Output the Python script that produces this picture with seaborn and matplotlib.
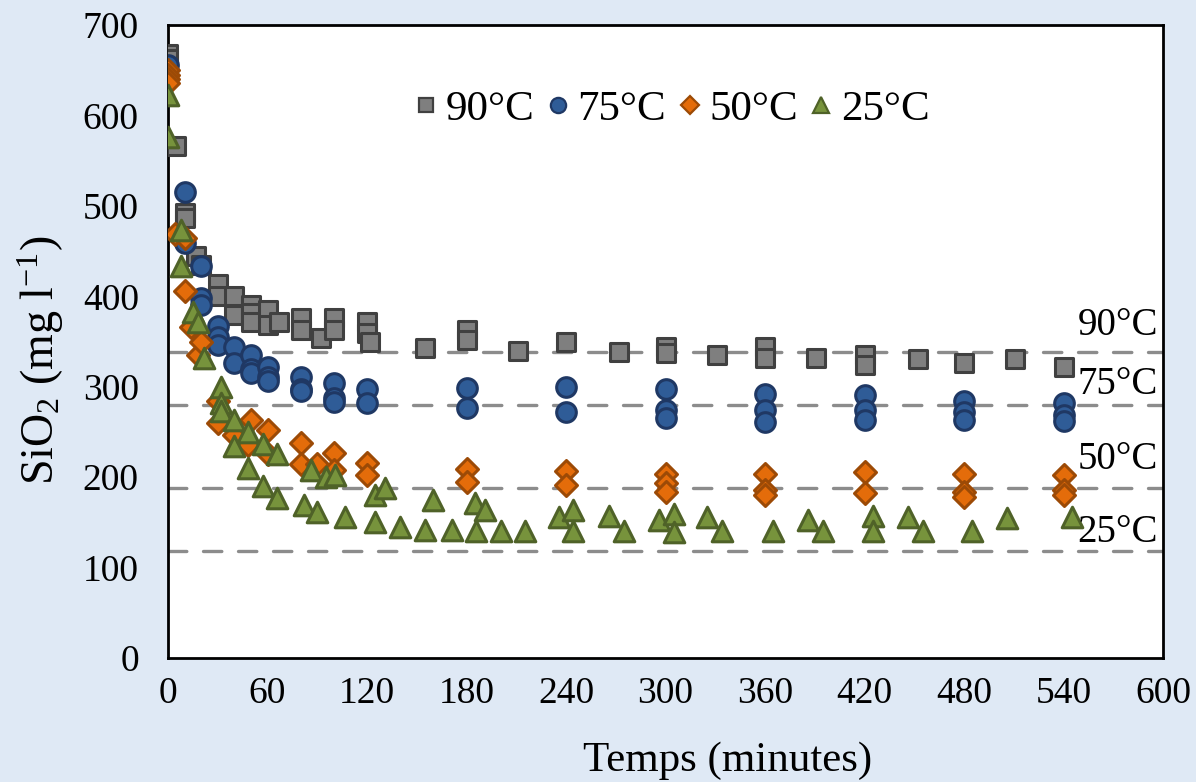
import numpy as np
import pandas as pd
import matplotlib
matplotlib.use("Agg")
import matplotlib.pyplot as plt
import seaborn as sns
from matplotlib.lines import Line2D

# ---- data ----
t90 = [0, 0, 5, 10, 10, 17, 20, 30, 30, 40, 40, 50, 50, 50, 60, 60, 67, 80, 80, 92, 100, 100,
       120, 120, 122, 155, 180, 180, 211, 240, 272, 300, 300, 331, 360, 360, 391, 420, 420, 452,
       480, 511, 540]
v90 = [668, 662, 566, 492, 487, 445, 435, 414, 400, 400, 379, 390, 381, 372, 385, 368, 372, 376,
       363, 354, 376, 363, 372, 359, 350, 343, 363, 352, 339, 349, 338, 344, 337, 335, 344, 332,
       332, 335, 324, 331, 326, 331, 322]

t75 = [0, 10, 10, 20, 20, 20, 30, 30, 30, 40, 40, 50, 50, 50, 60, 60, 60, 80, 80, 80, 100, 100,
       100, 120, 120, 180, 180, 240, 240, 300, 300, 300, 360, 360, 360, 420, 420, 420, 480, 480,
       480, 540, 540, 540]
v75 = [656, 515, 459, 433, 398, 390, 367, 355, 346, 344, 326, 335, 320, 315, 322, 311, 306, 311,
       298, 295, 304, 287, 283, 298, 282, 299, 276, 300, 272, 297, 274, 265, 292, 274, 261, 291,
       274, 263, 284, 272, 263, 282, 269, 262]

t50 = [0, 0, 0, 0, 4, 10, 10, 14, 18, 20, 30, 30, 40, 48, 50, 60, 60, 80, 80, 90, 100, 100, 120,
       120, 180, 180, 240, 240, 300, 300, 300, 360, 360, 360, 420, 420, 480, 480, 480, 540, 540, 540]
v50 = [650, 645, 640, 636, 469, 465, 406, 366, 335, 350, 284, 260, 247, 236, 263, 252, 226, 238,
       215, 215, 227, 208, 216, 202, 209, 195, 207, 191, 203, 193, 184, 203, 186, 180, 206, 183,
       203, 184, 178, 202, 186, 180]

t25 = [0, 0, 8, 8, 15, 18, 22, 32, 32, 32, 40, 40, 48, 48, 57, 57, 66, 66, 82, 86, 90, 95, 101,
       107, 125, 125, 131, 140, 155, 160, 171, 185, 186, 191, 201, 215, 236, 244, 244, 266, 275,
       296, 305, 305, 325, 334, 365, 386, 395, 425, 425, 446, 455, 485, 506, 545]
v25 = [623, 576, 473, 433, 383, 372, 332, 300, 282, 273, 263, 234, 250, 210, 237, 190, 226, 177,
       169, 208, 162, 200, 202, 156, 180, 150, 188, 145, 142, 175, 142, 171, 140, 164, 140, 140,
       156, 164, 140, 157, 140, 153, 159, 139, 156, 140, 140, 153, 140, 157, 140, 156, 140, 140,
       155, 156]

series = ["90°C", "75°C", "50°C", "25°C"]
plateau = [338, 280, 188, 118]
label_y = [368, 302, 219, 139]

faces = ["#7F7F7F", "#2F5C97", "#E46C0A", "#77933C"]
edges = ["#404040", "#1F3864", "#9C4A06", "#4F6228"]
markers = ["s", "o", "D", "^"]
sizes = [160, 200, 125, 220]

df = pd.concat([
    pd.DataFrame({"t": t, "v": v, "T": name})
    for t, v, name in zip([t90, t75, t50, t25], [v90, v75, v50, v25], series)
], ignore_index=True)

# ---- style ----
sns.set_style("white")
plt.rcParams["font.family"] = ["Liberation Serif", "DejaVu Serif"]
plt.rcParams["mathtext.fontset"] = "custom"
plt.rcParams["mathtext.rm"] = "Liberation Serif"
plt.rcParams["mathtext.default"] = "regular"
plt.rcParams["text.color"] = "black"
plt.rcParams["axes.labelcolor"] = "black"
plt.rcParams["xtick.color"] = "black"
plt.rcParams["ytick.color"] = "black"

bg = "#DFE9F5"
fig = plt.figure(figsize=(11.96, 7.82), dpi=100, facecolor=bg)
ax = fig.add_axes([168 / 1196, 1 - 658 / 782, (1163 - 168) / 1196, (658 - 25) / 782])
ax.set_facecolor("white")

# plateau dashed lines
for p in plateau:
    ax.plot([0, 600], [p, p], color="#8C8C8C", lw=2.4, dashes=(5.5, 5), zorder=1,
            dash_capstyle="round")

for i, name in enumerate(series):
    sub = df[df["T"] == name]
    sns.scatterplot(data=sub, x="t", y="v", ax=ax, marker=markers[i], s=sizes[i],
                    color=faces[i], edgecolor=edges[i], linewidth=2.2, zorder=3 + i,
                    label=name, legend=False)

for name, y in zip(series, label_y):
    ax.text(597, y, name, ha="right", va="center", fontsize=28, color="black", zorder=10)

ax.set_xlim(0, 600)
ax.set_ylim(0, 700)
ax.set_xticks(np.arange(0, 601, 60))
ax.set_yticks(np.arange(0, 701, 100))
ax.tick_params(axis="x", which="both", direction="out", length=7, width=1.6,
               labelsize=27, colors="black", pad=6)
ax.tick_params(axis="y", which="both", direction="out", length=7, width=1.6,
               labelsize=27, colors="black", pad=14)
for s in ax.spines.values():
    s.set_color("black")
    s.set_linewidth(2.0)
    s.set_visible(True)

ax.set_xlabel("Temps (minutes)", fontsize=31, va="center")
ax.xaxis.set_label_coords(0.562, -0.163)
ax.set_ylabel(r"SiO$_2$ (mg l$^{-1}$)", fontsize=33, va="center")
ax.yaxis.set_label_coords(-0.128, 0.47)

handles = [Line2D([], [], linestyle="none", marker=markers[i], markersize=[10, 11, 9, 12][i],
                  markerfacecolor=faces[i], markeredgecolor=edges[i], markeredgewidth=1.6)
           for i in range(4)]
ax.legend(handles, series, loc="center", bbox_to_anchor=(0.507, 0.866), ncol=4, frameon=False,
          fontsize=31, handletextpad=0.2, columnspacing=0.3, handlelength=0.5)

fig.savefig("out.png", dpi=100, facecolor=bg)
